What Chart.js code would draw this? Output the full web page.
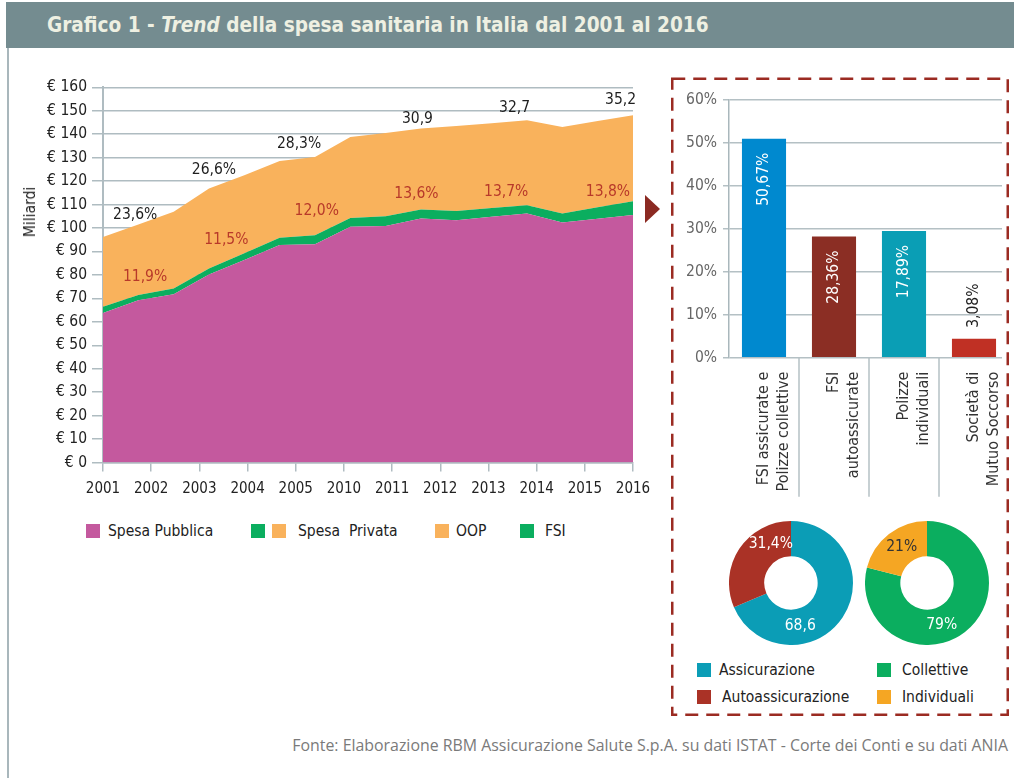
<!DOCTYPE html>
<html><head><meta charset="utf-8">
<script src="https://cdn.jsdelivr.net/npm/chart.js@4/dist/chart.umd.min.js"></script>
<style>
html,body{margin:0;padding:0;}
body{width:1014px;height:778px;position:relative;background:#fff;overflow:hidden;font-family:'DejaVu Sans Condensed','DejaVu Sans',sans-serif;color:#222;}
.abs{position:absolute;}
#title{left:6px;top:2px;width:1008px;height:46px;background:#748C90;color:#EEF0E2;font-weight:bold;font-size:20.6px;line-height:46px;box-sizing:border-box;padding-left:41px;white-space:nowrap;}
#leftline{left:7px;top:48px;width:2px;height:730px;background:#A9B7BC;}
.sq{position:absolute;width:14px;height:14px;}
.lt{position:absolute;font-size:15.5px;line-height:20px;white-space:pre;}
#footer{right:6px;top:735px;font-family:'Open Sans','Noto Sans',sans-serif;font-size:15.9px;line-height:20px;color:#7A7A7A;white-space:nowrap;}
#mil{left:30px;top:212px;transform:translate(-50%,-50%) rotate(-90deg);font-size:15.5px;white-space:nowrap;}
</style></head>
<body>
<div id="title" class="abs">Grafico 1 - <i>Trend</i> della spesa sanitaria in Italia dal 2001 al 2016</div>
<div id="leftline" class="abs"></div>

<div class="abs" style="left:14px;top:60px;width:640px;height:460px;"><canvas id="c1"></canvas></div>
<div id="mil" class="abs">Miliardi</div>

<div class="abs" style="left:676px;top:84px;width:334px;height:420px;"><canvas id="c2"></canvas></div>
<div class="abs" style="left:1002px;top:84px;width:12px;height:290px;background:#fff;"></div>

<div class="abs" style="left:728.7px;top:521.3px;width:124px;height:124px;"><canvas id="c3"></canvas></div>
<div class="abs" style="left:864.7px;top:521.3px;width:124px;height:124px;"><canvas id="c4"></canvas></div>

<!-- main legend -->
<div class="sq" style="left:86px;top:524px;background:#C4599E"></div>
<div class="lt" style="left:108px;top:521px;">Spesa Pubblica</div>
<div class="sq" style="left:251px;top:524px;background:#0BAE5F"></div>
<div class="sq" style="left:272px;top:524px;background:#F9B25C"></div>
<div class="lt" style="left:298px;top:521px;">Spesa  Privata</div>
<div class="sq" style="left:435px;top:524px;background:#F9B25C"></div>
<div class="lt" style="left:456px;top:521px;">OOP</div>
<div class="sq" style="left:520px;top:524px;background:#0BAE5F"></div>
<div class="lt" style="left:545px;top:521px;">FSI</div>

<!-- pie legend -->
<div class="sq" style="left:697px;top:663px;background:#0B9DB6"></div>
<div class="lt" style="left:719px;top:660px;">Assicurazione</div>
<div class="sq" style="left:697px;top:690px;background:#AA3226"></div>
<div class="lt" style="left:722px;top:687px;">Autoassicurazione</div>
<div class="sq" style="left:877px;top:663px;background:#0BAE5F"></div>
<div class="lt" style="left:902px;top:660px;">Collettive</div>
<div class="sq" style="left:877px;top:690px;background:#F5A623"></div>
<div class="lt" style="left:902px;top:687px;">Individuali</div>

<div id="footer" class="abs">Fonte: Elaborazione RBM Assicurazione Salute S.p.A. su dati ISTAT - Corte dei Conti e su dati ANIA</div>

<svg class="abs" style="left:0;top:0;pointer-events:none;" width="1014" height="778">
  <rect x="672.25" y="78.75" width="335.5" height="636" fill="none" stroke="#9B2B22" stroke-width="2.5" stroke-dasharray="13 8"/>
  <polygon points="645,195 660,209 645,223" fill="#8B2A22"/>
</svg>

<script>
// ---------- DATA ----------
const years = ['2001','2002','2003','2004','2005','2006','2007','2008','2009','2010','2011','2012','2013','2014','2015','2016'];
const tickLabels = ['2001','2002','2003','2004','2005','2010','2011','2012','2013','2014','2015','2016'];
const yTickValues = [0,10,20,30,40,50,60,70,80,90,100,110,120,130,140,150,160];
const spesaPubblica = [63.8,69.2,71.8,80.2,86.4,92.7,93.1,100.5,100.8,104.0,103.3,104.8,106.2,102.3,103.9,105.5];
const fsi = [2.6,2.2,2.4,2.5,2.8,3.1,3.8,3.8,4.2,3.9,4.0,3.7,3.5,3.9,4.9,5.9];
const oop = [29.8,30.1,32.7,34.1,33.3,32.8,33.4,34.5,35.5,34.5,36.2,36.2,36.2,36.9,36.8,36.7];
const privShareLabels = ['23,6%','26,6%','28,3%','30,9','32,7','35,2'];
const privShareAt = [[0.91,105.5],[3.14,124.6],[5.55,136],[8.9,146.7],[11.65,151.3],[14.65,154.5]];
const fsiShareLabels = ['11,9%','11,5%','12,0%','13,6%','13,7%','13,8%'];
const fsiShareAt = [[1.19,79.2],[3.49,94.8],[6.05,107.3],[8.87,114.4],[11.41,115.4],[14.29,115.4]];

const barCategories = [['FSI assicurate e','Polizze collettive'],['FSI','autoassicurate'],['Polizze','individuali'],['Società di','Mutuo Soccorso']];
const barValues = [51.0, 28.2, 29.5, 4.4];
const barLabels = ['50,67%','28,36%','17,89%','3,08%'];
const barTickValues = [0,10,20,30,40,50,60];

const donut1Labels = ['Assicurazione','Autoassicurazione'];
const donut1Values = [68.6, 31.4];
const donut1Text = ['68,6','31,4%'];
const donut2Labels = ['Collettive','Individuali'];
const donut2Values = [79, 21];
const donut2Text = ['79%','21%'];

// ---------- STYLE ----------
const FONT = "'DejaVu Sans Condensed','DejaVu Sans',sans-serif";
const GRID = '#AFBCC1';
Chart.defaults.font.family = FONT;
Chart.defaults.animation = false;

const annotPlugin = {
  id:'annot',
  afterDraw(chart){
    const {ctx, scales:{x,y}} = chart;
    ctx.save();
    ctx.font = '15.5px ' + FONT;
    ctx.textAlign = 'center';
    ctx.textBaseline = 'middle';
    ctx.fillStyle = '#1E1E1E';
    privShareLabels.forEach((t,i)=>{
      ctx.fillText(t, x.getPixelForValue(privShareAt[i][0]), y.getPixelForValue(privShareAt[i][1]));
    });
    ctx.fillStyle = '#B8392A';
    fsiShareLabels.forEach((t,i)=>{
      ctx.fillText(t, x.getPixelForValue(fsiShareAt[i][0]), y.getPixelForValue(fsiShareAt[i][1]));
    });
    ctx.restore();
  }
};

new Chart(document.getElementById('c1'), {
  type:'line',
  data:{labels:years, datasets:[
    {label:'Spesa Pubblica', data:spesaPubblica, backgroundColor:'#C4599E', borderColor:'#C4599E', fill:'origin', borderWidth:0, pointRadius:0, tension:0},
    {label:'FSI', data:fsi, backgroundColor:'#0BAE5F', borderColor:'#0BAE5F', fill:'-1', borderWidth:0, pointRadius:0, tension:0},
    {label:'OOP', data:oop, backgroundColor:'#F9B25C', borderColor:'#F9B25C', fill:'-1', borderWidth:0, pointRadius:0, tension:0}
  ]},
  options:{
    responsive:true, maintainAspectRatio:false,
    layout:{padding:{top:27.3, right:21, left:0, bottom:0}},
    plugins:{legend:{display:false}, tooltip:{enabled:false}},
    scales:{
      x:{type:'category', display:false, offset:false},
      x2:{type:'category', position:'bottom', labels:tickLabels, offset:false, bounds:'ticks',
          grid:{drawOnChartArea:false, color:GRID, lineWidth:1.5, tickLength:9},
          border:{color:GRID, width:1.5},
          ticks:{autoSkip:false, maxRotation:0, padding:9, color:'#222', font:{size:15}},
          afterFit:s=>{s.height=57.5; s.paddingLeft=0; s.paddingRight=0;}},
      y:{stacked:true, min:0, max:160, z:1,
         afterBuildTicks:s=>{s.ticks = yTickValues.map(v=>({value:v}));},
         afterFit:s=>{s.width=89; s.paddingTop=0; s.paddingBottom=0;},
         grid:{color:GRID, lineWidth:1.5, tickLength:11},
         border:{color:GRID, width:2},
         ticks:{padding:5, color:'#222', font:{size:15.5}, callback:v=>'€ '+v}}
    }
  },
  plugins:[annotPlugin]
});

const barLabelPlugin = {
  id:'barLabels',
  afterDatasetsDraw(chart){
    const {ctx} = chart;
    const meta = chart.getDatasetMeta(0);
    ctx.save();
    ctx.font = '15.5px ' + FONT;
    ctx.textBaseline = 'middle';
    meta.data.forEach((el,i)=>{
      ctx.save();
      ctx.translate(el.x, el.y);
      ctx.rotate(-Math.PI/2);
      if (i < 3) {
        ctx.fillStyle = '#FFFFFF';
        ctx.textAlign = 'right';
        ctx.fillText(barLabels[i], -14, 0);
      } else {
        ctx.fillStyle = '#1E1E1E';
        ctx.textAlign = 'left';
        ctx.fillText(barLabels[i], 11, 0);
      }
      ctx.restore();
    });
    // category separators under the axis
    const xs = chart.scales.x, b = chart.chartArea.bottom;
    ctx.strokeStyle = '#B4C0C4';
    ctx.lineWidth = 1.5;
    for (let i=1;i<barCategories.length;i++){
      const px = (xs.getPixelForValue(i-1)+xs.getPixelForValue(i))/2;
      ctx.beginPath(); ctx.moveTo(px, b); ctx.lineTo(px, b+139); ctx.stroke();
    }
    ctx.restore();
  }
};

new Chart(document.getElementById('c2'), {
  type:'bar',
  data:{labels:barCategories, datasets:[{data:barValues, backgroundColor:['#0089CF','#8B2E24','#0A9EB5','#C03024'], barPercentage:0.63, categoryPercentage:1}]},
  options:{
    responsive:true, maintainAspectRatio:false,
    layout:{padding:{top:16, right:1, left:0, bottom:0}},
    plugins:{legend:{display:false}, tooltip:{enabled:false}},
    scales:{
      x:{grid:{display:false, drawTicks:false}, border:{display:false},
         ticks:{autoSkip:false, minRotation:90, maxRotation:90, padding:14, color:'#333', font:{size:16, lineHeight:1.25}},
         afterFit:s=>{s.height=146.3; s.paddingLeft=0; s.paddingRight=0;}},
      y:{min:0, max:60,
         afterBuildTicks:s=>{s.ticks = barTickValues.map(v=>({value:v}));},
         afterFit:s=>{s.width=53;},
         grid:{color:'#B4C0C4', lineWidth:1.5, tickLength:6},
         border:{color:'#A9B7BC', width:1.5},
         ticks:{padding:6, color:'#666', font:{size:15.5}, callback:v=>v+'%'}}
    }
  },
  plugins:[barLabelPlugin]
});

function donutLabelPlugin(texts, colors, fracs){
  return {
    id:'donutLabels',
    afterDatasetsDraw(chart){
      const {ctx} = chart;
      const meta = chart.getDatasetMeta(0);
      ctx.save();
      ctx.font = '15.5px ' + FONT;
      ctx.textAlign = 'center';
      ctx.textBaseline = 'middle';
      meta.data.forEach((el,i)=>{
        const p = el.getProps(['x','y','startAngle','endAngle','innerRadius','outerRadius']);
        const a = p.startAngle + fracs[i]*(p.endAngle-p.startAngle);
        const r = (p.innerRadius+p.outerRadius)/2;
        ctx.fillStyle = colors[i];
        ctx.fillText(texts[i], p.x + Math.cos(a)*r, p.y + Math.sin(a)*r);
      });
      ctx.restore();
    }
  };
}

function donut(id, labels, values, colors, texts, textColors, fracs){
  new Chart(document.getElementById(id), {
    type:'doughnut',
    data:{labels, datasets:[{data:values, backgroundColor:colors, borderWidth:0}]},
    options:{
      responsive:true, maintainAspectRatio:false, cutout:'43%',
      layout:{padding:0},
      plugins:{legend:{display:false}, tooltip:{enabled:false}}
    },
    plugins:[donutLabelPlugin(texts, textColors, fracs)]
  });
}
donut('c3', donut1Labels, donut1Values, ['#0B9DB6','#AA3226'], donut1Text, ['#FFFFFF','#FFFFFF'], [0.68,0.76]);
donut('c4', donut2Labels, donut2Values, ['#0BAE5F','#F5A623'], donut2Text, ['#FFFFFF','#333333'], [0.565,0.54]);
</script>
</body></html>
